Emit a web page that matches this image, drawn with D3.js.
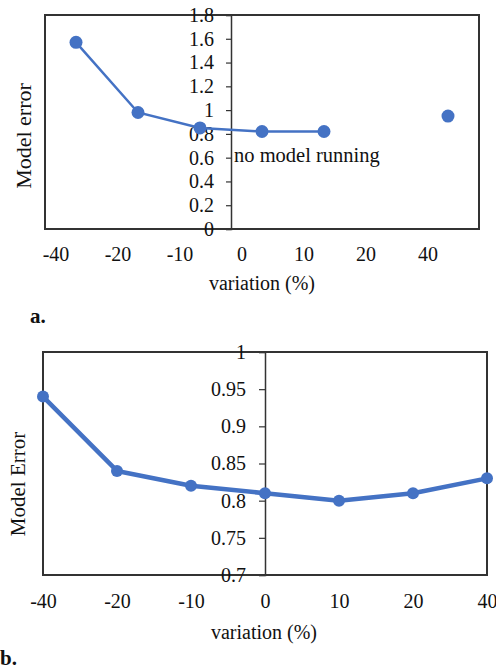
<!DOCTYPE html>
<html>
<head>
<meta charset="utf-8">
<script src="https://cdn.jsdelivr.net/npm/d3@7"></script>
<style>
  body { margin: 0; background: #fff; }
  svg text { font-family: "Liberation Serif", "Times New Roman", serif !important; fill: #111; }
</style>
</head>
<body>
<svg id="chart" width="496" height="671"></svg>
<script>
// categories shared by both panels (variation %)
const variations = ['-40', '-20', '-10', '0', '10', '20', '40'];

// panel a: model error, no value at +20 (no model running)
const errorA = [1.57, 0.98, 0.85, 0.82, 0.82, null, 0.95];
const yTicksA = [0, 0.2, 0.4, 0.6, 0.8, 1, 1.2, 1.4, 1.6, 1.8];

// panel b: model error
const errorB = [0.94, 0.84, 0.82, 0.81, 0.80, 0.81, 0.83];
const yTicksB = [0.7, 0.75, 0.8, 0.85, 0.9, 0.95, 1];

const blue = '#4472c4';
const ink = '#333';

const svg = d3.select('#chart');

// ---------- panel a ----------
{
  const box = { left: 45, right: 479, top: 15, bottom: 229 };
  const data = variations.map((v, i) => ({ v, val: errorA[i] }));

  const x = d3.scaleBand()
    .domain(variations)
    .range([box.left, box.right]);

  const y = d3.scaleLinear()
    .domain([0, 1.8])
    .range([box.bottom, box.top]);

  const g = svg.append('g');

  g.append('rect')
    .attr('x', box.left)
    .attr('y', box.top)
    .attr('width', box.right - box.left)
    .attr('height', box.bottom - box.top)
    .attr('fill', 'none')
    .attr('stroke', ink)
    .attr('stroke-width', 2);

  // y axis crosses between -10 and 0
  const axisX = x('0');
  const yAxis = g.append('g')
    .attr('transform', `translate(${axisX},0)`)
    .call(d3.axisLeft(y).tickValues(yTicksA).tickSize(5).tickPadding(12).tickFormat(d => String(d)));
  yAxis.select('.domain').attr('stroke', ink).attr('stroke-width', 1.5);
  yAxis.selectAll('.tick line').attr('stroke', ink).attr('stroke-width', 1.2);
  yAxis.selectAll('.tick text').attr('font-size', 20);

  // x labels sit a little left of the band centres
  const xAxis = g.append('g')
    .attr('transform', `translate(-20,${box.bottom + 15})`)
    .call(d3.axisBottom(x).tickSize(0).tickPadding(3));
  xAxis.select('.domain').remove();
  xAxis.selectAll('.tick text').attr('font-size', 20);

  const line = d3.line()
    .defined(d => d.val != null)
    .x(d => x(d.v) + x.bandwidth() / 2)
    .y(d => y(d.val));

  g.append('path')
    .datum(data)
    .attr('d', line)
    .attr('fill', 'none')
    .attr('stroke', blue)
    .attr('stroke-width', 2.5);

  g.selectAll('.dot')
    .data(data.filter(d => d.val != null))
    .enter()
    .append('circle')
    .attr('class', 'dot')
    .attr('cx', d => x(d.v) + x.bandwidth() / 2)
    .attr('cy', d => y(d.val))
    .attr('r', 6.5)
    .attr('fill', blue);

  g.append('text')
    .attr('x', axisX + 3)
    .attr('y', 162)
    .attr('font-size', 20.5)
    .text('no model running');

  g.append('text')
    .attr('transform', 'translate(31,136) rotate(-90)')
    .attr('text-anchor', 'middle')
    .attr('font-size', 22)
    .text('Model error');

  g.append('text')
    .attr('x', 262)
    .attr('y', 290)
    .attr('text-anchor', 'middle')
    .attr('font-size', 20)
    .text('variation (%)');

  g.append('text')
    .attr('x', 30)
    .attr('y', 323)
    .attr('font-size', 21)
    .attr('font-weight', 'bold')
    .text('a.');
}

// ---------- panel b ----------
{
  const box = { left: 43, right: 487, top: 352, bottom: 575 };
  const data = variations.map((v, i) => ({ v, val: errorB[i] }));

  const x = d3.scalePoint()
    .domain(variations)
    .range([box.left, box.right]);

  const y = d3.scaleLinear()
    .domain([0.7, 1])
    .range([box.bottom, box.top]);

  const g = svg.append('g');

  g.append('rect')
    .attr('x', box.left)
    .attr('y', box.top)
    .attr('width', box.right - box.left)
    .attr('height', box.bottom - box.top)
    .attr('fill', 'none')
    .attr('stroke', ink)
    .attr('stroke-width', 2);

  const axisX = x('0');
  const yAxis = g.append('g')
    .attr('transform', `translate(${axisX},0)`)
    .call(d3.axisLeft(y).tickValues(yTicksB).tickSize(6).tickPadding(13).tickFormat(d => String(d)));
  yAxis.select('.domain').attr('stroke', ink).attr('stroke-width', 1.5);
  yAxis.selectAll('.tick line').attr('stroke', ink).attr('stroke-width', 1.2);
  yAxis.selectAll('.tick text').attr('font-size', 20);

  const xAxis = g.append('g')
    .attr('transform', `translate(0,${box.bottom + 16})`)
    .call(d3.axisBottom(x).tickSize(0).tickPadding(3));
  xAxis.select('.domain').remove();
  xAxis.selectAll('.tick text').attr('font-size', 20);

  const line = d3.line()
    .x(d => x(d.v))
    .y(d => y(d.val));

  g.append('path')
    .datum(data)
    .attr('d', line)
    .attr('fill', 'none')
    .attr('stroke', blue)
    .attr('stroke-width', 4.5)
    .attr('stroke-linejoin', 'round');

  g.selectAll('.dot')
    .data(data)
    .enter()
    .append('circle')
    .attr('class', 'dot')
    .attr('cx', d => x(d.v))
    .attr('cy', d => y(d.val))
    .attr('r', 6)
    .attr('fill', blue);

  g.append('text')
    .attr('transform', 'translate(25,484) rotate(-90)')
    .attr('text-anchor', 'middle')
    .attr('font-size', 21)
    .text('Model Error');

  g.append('text')
    .attr('x', 264)
    .attr('y', 639)
    .attr('text-anchor', 'middle')
    .attr('font-size', 20)
    .text('variation (%)');

  g.append('text')
    .attr('x', 0)
    .attr('y', 665)
    .attr('font-size', 21)
    .attr('font-weight', 'bold')
    .text('b.');
}
</script>
</body>
</html>
